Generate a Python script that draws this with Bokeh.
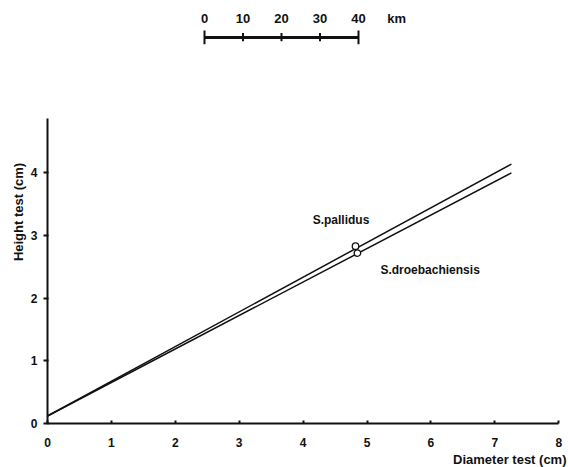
from bokeh.plotting import figure
from bokeh.models import Range1d, FixedTicker, LinearAxis, Title
from bokeh.core.properties import value
from bokeh.embed import file_html
from bokeh.resources import INLINE

# ---- data ----
diameter = [0.0, 7.26]                 # cm
height_pallidus = [0.12, 4.14]         # cm
height_droeb = [0.12, 4.00]            # cm
mark_x = [4.82, 4.85]
mark_y = [2.83, 2.72]
series_names = ["S.pallidus", "S.droebachiensis"]
x_ticks = [0, 1, 2, 3, 4, 5, 6, 7, 8]
y_ticks = [0, 1, 2, 3, 4]
km_ticks = [0, 10, 20, 30, 40]
km_labels = ["0", "10", "20", "30", "40"]

FONT = "Liberation Sans"
INK = "#111111"

p = figure(width=568, height=467, output_backend="svg", toolbar_location=None,
           x_range=Range1d(0, 8.153), y_range=Range1d(0, 6.75),
           x_axis_type=None, y_axis_type=None,
           min_border_left=47, min_border_right=0, min_border_top=0,
           min_border_bottom=43)
p.outline_line_color = None
p.xgrid.visible = False
p.ygrid.visible = False
p.extra_x_ranges = {"km": Range1d(-40.78, 94.55)}

xa = LinearAxis(ticker=FixedTicker(ticks=x_ticks), bounds=(0, 8))
ya = LinearAxis(ticker=FixedTicker(ticks=y_ticks), bounds=(0, 4.87))
for ax in (xa, ya):
    ax.axis_line_width = 2
    ax.axis_line_color = INK
    ax.major_tick_line_color = INK
    ax.major_tick_line_width = 2
    ax.minor_tick_line_color = None
    ax.major_label_text_font = FONT
    ax.major_label_text_font_style = "bold"
    ax.major_label_text_font_size = "12px"
    ax.major_label_text_color = INK
xa.major_tick_in = 3
xa.major_tick_out = 0
xa.major_label_standoff = 14
ya.major_tick_in = 1
ya.major_tick_out = 4
ya.major_label_standoff = 6
p.add_layout(xa, "below")
p.add_layout(ya, "left")

# axis titles
p.add_layout(Title(text="Diameter test (cm)", align="right", text_font=FONT,
                   text_font_style="bold", text_font_size="13px",
                   text_color=INK, standoff=1, offset=2), "below")
p.add_layout(Title(text="Height test (cm)", align="center", text_font=FONT,
                   text_font_style="bold", text_font_size="13px",
                   text_color=INK, standoff=4), "left")

# regression lines
p.line(diameter, height_pallidus, line_color=INK, line_width=1.5)
p.line(diameter, height_droeb, line_color=INK, line_width=1.5)
p.scatter(mark_x, mark_y, size=6.5, fill_color="white", line_color=INK, line_width=1.3)

# series labels
p.text(x=[4.15, 5.21], y=[3.25, 2.45], text=series_names, text_font=value(FONT),
       text_font_style="bold", text_font_size="12px", text_color=INK,
       text_baseline="middle", text_align="left")

# scale bar (km)
p.line([km_ticks[0], km_ticks[-1]], [6.16, 6.16], x_range_name="km",
       line_color=INK, line_width=3)
p.segment(x0=[km_ticks[0], km_ticks[-1]], x1=[km_ticks[0], km_ticks[-1]],
          y0=[6.05, 6.05], y1=[6.27, 6.27], x_range_name="km",
          line_color=INK, line_width=2)
p.segment(x0=km_ticks[1:-1], x1=km_ticks[1:-1], y0=[6.10] * 3, y1=[6.23] * 3,
          x_range_name="km", line_color=INK, line_width=2)
p.text(x=km_ticks, y=[6.46] * 5, text=km_labels, x_range_name="km",
       text_font=value(FONT), text_font_style="bold", text_font_size="13px",
       text_color=INK, text_align="center", text_baseline="middle")
p.text(x=[47.5], y=[6.46], text=["km"], x_range_name="km",
       text_font=value(FONT), text_font_style="bold", text_font_size="13px",
       text_color=INK, text_align="left", text_baseline="middle")

open("out.html", "w").write(file_html(p, INLINE))
